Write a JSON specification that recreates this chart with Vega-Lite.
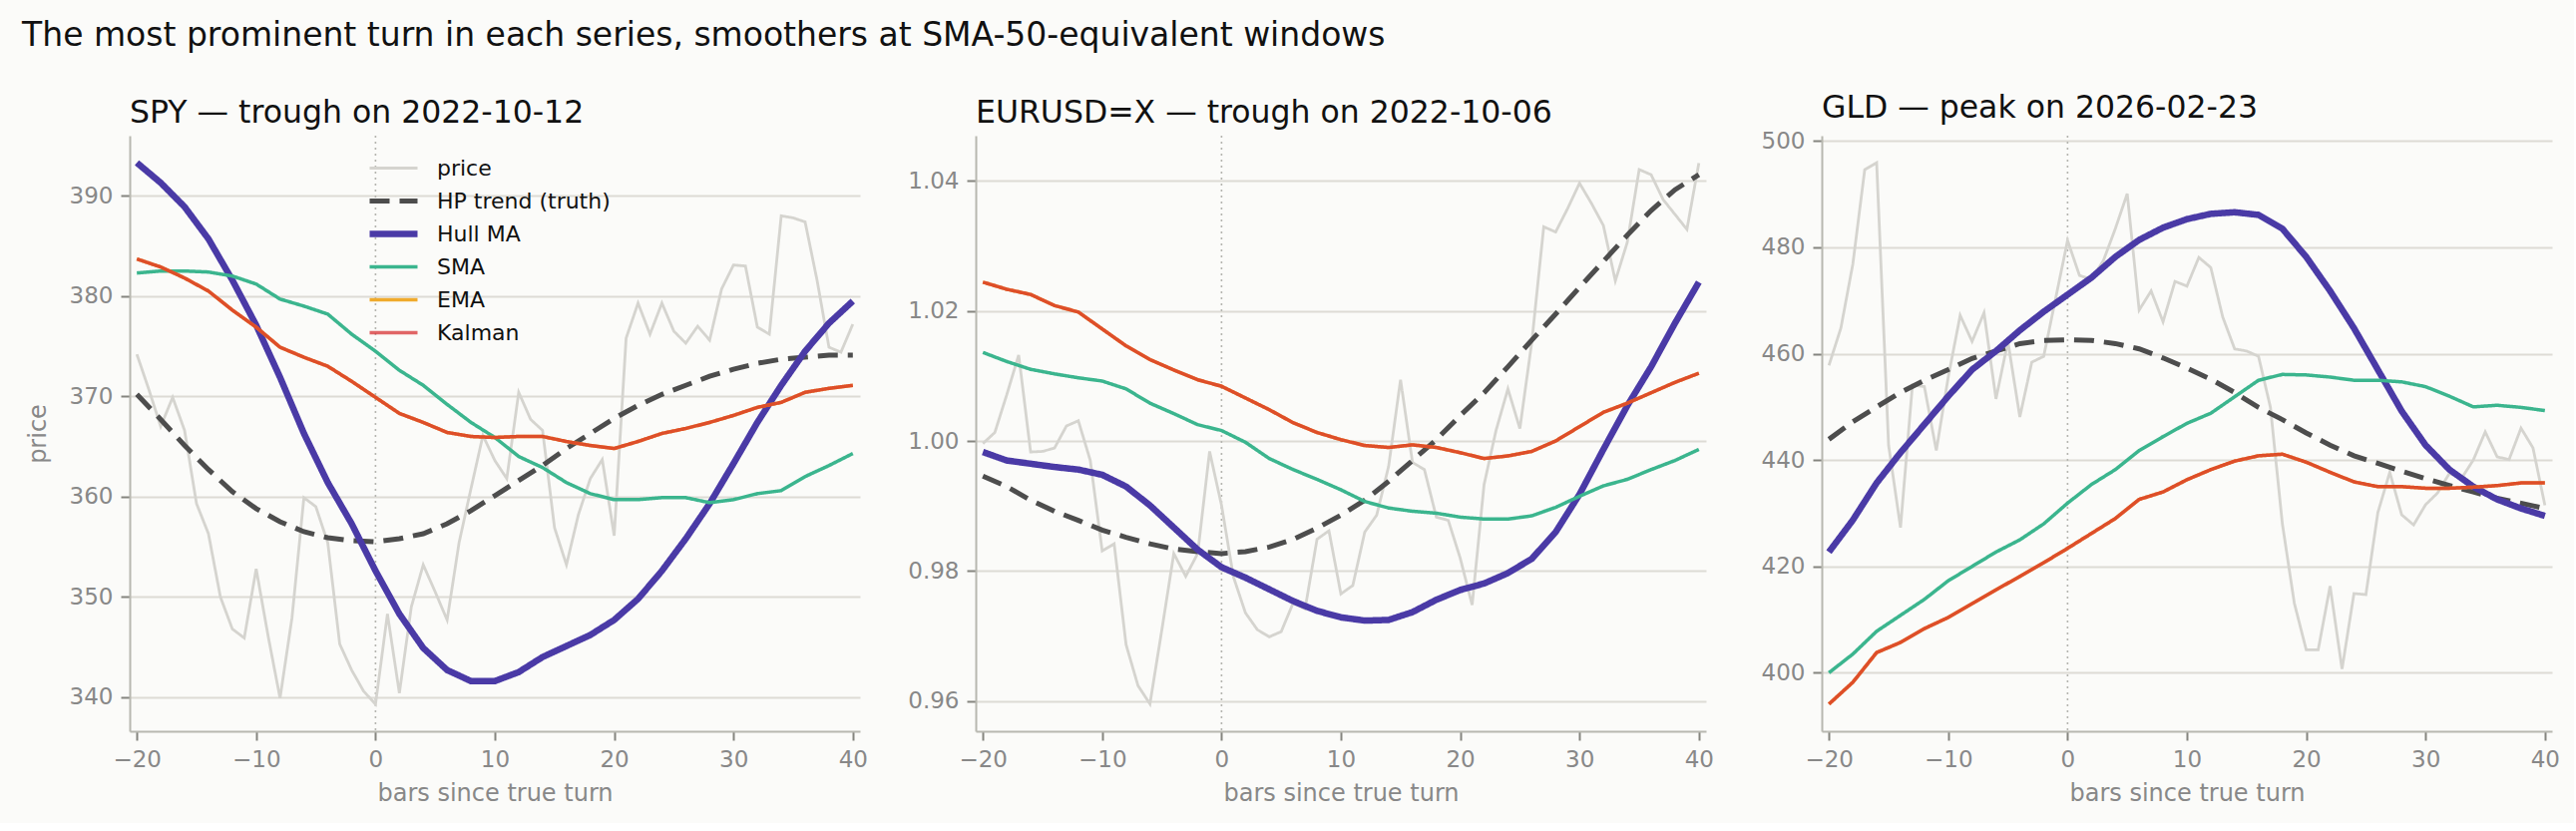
{
  "$schema": "https://vega.github.io/schema/vega-lite/v6.json",
  "background": "#fbfbf9",
  "padding": {"left": 22, "top": 19, "right": 14, "bottom": 18},
  "bounds": "flush",
  "spacing": 116,
  "title": {
    "text": "The most prominent turn in each series, smoothers at SMA-50-equivalent windows",
    "anchor": "start",
    "frame": "bounds",
    "fontSize": 33,
    "offset": 40,
    "dx": -4
  },
  "config": {
    "font": "DejaVu Sans",
    "view": {"stroke": null},
    "title": {"anchor": "start", "frame": "group", "font": "DejaVu Sans", "fontSize": 31.5, "fontWeight": "normal", "color": "#111111", "offset": 6},
    "axis": {
      "domainColor": "#b8b8b0", "domainWidth": 2,
      "tickColor": "#85857f", "tickWidth": 2, "tickSize": 9,
      "labelColor": "#888888", "labelFont": "DejaVu Sans", "labelFontSize": 23, "labelPadding": 8,
      "titleColor": "#888888", "titleFont": "DejaVu Sans", "titleFontSize": 24, "titleFontWeight": "normal",
      "gridColor": "#dddbd5", "gridWidth": 2
    },
    "axisX": {"grid": false, "titlePadding": 10, "labelFlush": false},
    "axisY": {"grid": true, "titlePadding": 19},
    "legend": {
      "orient": "none", "legendX": 237, "legendY": 16, "padding": 0,
      "symbolType": "stroke", "symbolSize": 2304, "clipHeight": 33, "labelFont": "DejaVu Sans", "labelFontSize": 22,
      "labelColor": "#111111", "labelOffset": 16, "labelLimit": 0, "rowPadding": 0, "titleFontSize": 0
    }
  },
  "resolve": {
    "scale": {"y": "independent"},
    "legend": {"color": "independent", "strokeDash": "independent", "strokeWidth": "independent", "opacity": "independent"}
  },
  "datasets": {
    "spy": [
      {"line":"price","bar":-20,"value":374.2},{"line":"price","bar":-19,"value":370.7},{"line":"price","bar":-18,"value":367.0},{"line":"price","bar":-17,"value":369.9},{"line":"price","bar":-16,"value":366.6},{"line":"price","bar":-15,"value":359.3},{"line":"price","bar":-14,"value":356.3},{"line":"price","bar":-13,"value":350.0},{"line":"price","bar":-12,"value":346.8},{"line":"price","bar":-11,"value":345.9},{"line":"price","bar":-10,"value":352.8},{"line":"price","bar":-9,"value":346.1},{"line":"price","bar":-8,"value":339.9},{"line":"price","bar":-7,"value":347.9},{"line":"price","bar":-6,"value":359.9},{"line":"price","bar":-5,"value":359.0},{"line":"price","bar":-4,"value":355.4},{"line":"price","bar":-3,"value":345.3},{"line":"price","bar":-2,"value":342.7},{"line":"price","bar":-1,"value":340.6},{"line":"price","bar":0,"value":339.3},{"line":"price","bar":1,"value":348.3},{"line":"price","bar":2,"value":340.4},{"line":"price","bar":3,"value":349.0},{"line":"price","bar":4,"value":353.2},{"line":"price","bar":5,"value":350.5},{"line":"price","bar":6,"value":347.7},{"line":"price","bar":7,"value":355.4},{"line":"price","bar":8,"value":360.8},{"line":"price","bar":9,"value":366.1},{"line":"price","bar":10,"value":363.6},{"line":"price","bar":11,"value":361.8},{"line":"price","bar":12,"value":370.4},{"line":"price","bar":13,"value":367.7},{"line":"price","bar":14,"value":366.6},{"line":"price","bar":15,"value":356.9},{"line":"price","bar":16,"value":353.2},{"line":"price","bar":17,"value":358.2},{"line":"price","bar":18,"value":361.8},{"line":"price","bar":19,"value":363.7},{"line":"price","bar":20,"value":356.1},{"line":"price","bar":21,"value":375.8},{"line":"price","bar":22,"value":379.3},{"line":"price","bar":23,"value":376.2},{"line":"price","bar":24,"value":379.3},{"line":"price","bar":25,"value":376.5},{"line":"price","bar":26,"value":375.3},{"line":"price","bar":27,"value":377.0},{"line":"price","bar":28,"value":375.6},{"line":"price","bar":29,"value":380.7},{"line":"price","bar":30,"value":383.1},{"line":"price","bar":31,"value":383.0},{"line":"price","bar":32,"value":376.9},{"line":"price","bar":33,"value":376.2},{"line":"price","bar":34,"value":388.0},{"line":"price","bar":35,"value":387.8},{"line":"price","bar":36,"value":387.4},{"line":"price","bar":37,"value":381.6},{"line":"price","bar":38,"value":374.9},{"line":"price","bar":39,"value":374.4},{"line":"price","bar":40,"value":377.2},
      {"line":"HP trend (truth)","bar":-20,"value":370.2},{"line":"HP trend (truth)","bar":-18,"value":367.7},{"line":"HP trend (truth)","bar":-16,"value":365.1},{"line":"HP trend (truth)","bar":-14,"value":362.7},{"line":"HP trend (truth)","bar":-12,"value":360.5},{"line":"HP trend (truth)","bar":-10,"value":358.8},{"line":"HP trend (truth)","bar":-8,"value":357.5},{"line":"HP trend (truth)","bar":-6,"value":356.5},{"line":"HP trend (truth)","bar":-4,"value":355.9},{"line":"HP trend (truth)","bar":-2,"value":355.6},{"line":"HP trend (truth)","bar":0,"value":355.5},{"line":"HP trend (truth)","bar":2,"value":355.8},{"line":"HP trend (truth)","bar":4,"value":356.3},{"line":"HP trend (truth)","bar":6,"value":357.3},{"line":"HP trend (truth)","bar":8,"value":358.6},{"line":"HP trend (truth)","bar":10,"value":360.1},{"line":"HP trend (truth)","bar":12,"value":361.6},{"line":"HP trend (truth)","bar":14,"value":363.1},{"line":"HP trend (truth)","bar":16,"value":364.8},{"line":"HP trend (truth)","bar":18,"value":366.3},{"line":"HP trend (truth)","bar":20,"value":367.8},{"line":"HP trend (truth)","bar":22,"value":369.1},{"line":"HP trend (truth)","bar":24,"value":370.2},{"line":"HP trend (truth)","bar":26,"value":371.1},{"line":"HP trend (truth)","bar":28,"value":372.0},{"line":"HP trend (truth)","bar":30,"value":372.7},{"line":"HP trend (truth)","bar":32,"value":373.3},{"line":"HP trend (truth)","bar":34,"value":373.7},{"line":"HP trend (truth)","bar":36,"value":373.9},{"line":"HP trend (truth)","bar":38,"value":374.1},{"line":"HP trend (truth)","bar":40,"value":374.1},
      {"line":"Hull MA","bar":-20,"value":393.3},{"line":"Hull MA","bar":-18,"value":391.3},{"line":"Hull MA","bar":-16,"value":388.9},{"line":"Hull MA","bar":-14,"value":385.7},{"line":"Hull MA","bar":-12,"value":381.6},{"line":"Hull MA","bar":-10,"value":377.1},{"line":"Hull MA","bar":-8,"value":371.9},{"line":"Hull MA","bar":-6,"value":366.3},{"line":"Hull MA","bar":-4,"value":361.4},{"line":"Hull MA","bar":-2,"value":357.3},{"line":"Hull MA","bar":0,"value":352.6},{"line":"Hull MA","bar":2,"value":348.3},{"line":"Hull MA","bar":4,"value":344.9},{"line":"Hull MA","bar":6,"value":342.7},{"line":"Hull MA","bar":8,"value":341.6},{"line":"Hull MA","bar":10,"value":341.6},{"line":"Hull MA","bar":12,"value":342.5},{"line":"Hull MA","bar":14,"value":344.0},{"line":"Hull MA","bar":16,"value":345.1},{"line":"Hull MA","bar":18,"value":346.2},{"line":"Hull MA","bar":20,"value":347.7},{"line":"Hull MA","bar":22,"value":349.8},{"line":"Hull MA","bar":24,"value":352.6},{"line":"Hull MA","bar":26,"value":355.8},{"line":"Hull MA","bar":28,"value":359.3},{"line":"Hull MA","bar":30,"value":363.3},{"line":"Hull MA","bar":32,"value":367.4},{"line":"Hull MA","bar":34,"value":371.1},{"line":"Hull MA","bar":36,"value":374.5},{"line":"Hull MA","bar":38,"value":377.3},{"line":"Hull MA","bar":40,"value":379.5},
      {"line":"SMA","bar":-20,"value":382.3},{"line":"SMA","bar":-18,"value":382.5},{"line":"SMA","bar":-16,"value":382.5},{"line":"SMA","bar":-14,"value":382.4},{"line":"SMA","bar":-12,"value":382.0},{"line":"SMA","bar":-10,"value":381.2},{"line":"SMA","bar":-8,"value":379.7},{"line":"SMA","bar":-6,"value":379.0},{"line":"SMA","bar":-4,"value":378.2},{"line":"SMA","bar":-2,"value":376.2},{"line":"SMA","bar":0,"value":374.5},{"line":"SMA","bar":2,"value":372.6},{"line":"SMA","bar":4,"value":371.1},{"line":"SMA","bar":6,"value":369.2},{"line":"SMA","bar":8,"value":367.4},{"line":"SMA","bar":10,"value":365.9},{"line":"SMA","bar":12,"value":364.0},{"line":"SMA","bar":14,"value":362.9},{"line":"SMA","bar":16,"value":361.4},{"line":"SMA","bar":18,"value":360.3},{"line":"SMA","bar":20,"value":359.7},{"line":"SMA","bar":22,"value":359.7},{"line":"SMA","bar":24,"value":359.9},{"line":"SMA","bar":26,"value":359.9},{"line":"SMA","bar":28,"value":359.4},{"line":"SMA","bar":30,"value":359.7},{"line":"SMA","bar":32,"value":360.3},{"line":"SMA","bar":34,"value":360.6},{"line":"SMA","bar":36,"value":362.0},{"line":"SMA","bar":38,"value":363.1},{"line":"SMA","bar":40,"value":364.3},
      {"line":"EMA","bar":-20,"value":383.7},{"line":"EMA","bar":-18,"value":382.9},{"line":"EMA","bar":-16,"value":381.8},{"line":"EMA","bar":-14,"value":380.5},{"line":"EMA","bar":-12,"value":378.6},{"line":"EMA","bar":-10,"value":376.9},{"line":"EMA","bar":-8,"value":374.9},{"line":"EMA","bar":-6,"value":373.9},{"line":"EMA","bar":-4,"value":373.0},{"line":"EMA","bar":-2,"value":371.5},{"line":"EMA","bar":0,"value":369.9},{"line":"EMA","bar":2,"value":368.3},{"line":"EMA","bar":4,"value":367.4},{"line":"EMA","bar":6,"value":366.4},{"line":"EMA","bar":8,"value":366.0},{"line":"EMA","bar":10,"value":365.9},{"line":"EMA","bar":12,"value":366.0},{"line":"EMA","bar":14,"value":366.0},{"line":"EMA","bar":16,"value":365.5},{"line":"EMA","bar":18,"value":365.1},{"line":"EMA","bar":20,"value":364.8},{"line":"EMA","bar":22,"value":365.5},{"line":"EMA","bar":24,"value":366.3},{"line":"EMA","bar":26,"value":366.8},{"line":"EMA","bar":28,"value":367.4},{"line":"EMA","bar":30,"value":368.1},{"line":"EMA","bar":32,"value":368.9},{"line":"EMA","bar":34,"value":369.4},{"line":"EMA","bar":36,"value":370.4},{"line":"EMA","bar":38,"value":370.8},{"line":"EMA","bar":40,"value":371.1},
      {"line":"Kalman","bar":-20,"value":383.7},{"line":"Kalman","bar":-18,"value":382.9},{"line":"Kalman","bar":-16,"value":381.8},{"line":"Kalman","bar":-14,"value":380.5},{"line":"Kalman","bar":-12,"value":378.6},{"line":"Kalman","bar":-10,"value":376.9},{"line":"Kalman","bar":-8,"value":374.9},{"line":"Kalman","bar":-6,"value":373.9},{"line":"Kalman","bar":-4,"value":373.0},{"line":"Kalman","bar":-2,"value":371.5},{"line":"Kalman","bar":0,"value":369.9},{"line":"Kalman","bar":2,"value":368.3},{"line":"Kalman","bar":4,"value":367.4},{"line":"Kalman","bar":6,"value":366.4},{"line":"Kalman","bar":8,"value":366.0},{"line":"Kalman","bar":10,"value":365.9},{"line":"Kalman","bar":12,"value":366.0},{"line":"Kalman","bar":14,"value":366.0},{"line":"Kalman","bar":16,"value":365.5},{"line":"Kalman","bar":18,"value":365.1},{"line":"Kalman","bar":20,"value":364.8},{"line":"Kalman","bar":22,"value":365.5},{"line":"Kalman","bar":24,"value":366.3},{"line":"Kalman","bar":26,"value":366.8},{"line":"Kalman","bar":28,"value":367.4},{"line":"Kalman","bar":30,"value":368.1},{"line":"Kalman","bar":32,"value":368.9},{"line":"Kalman","bar":34,"value":369.4},{"line":"Kalman","bar":36,"value":370.4},{"line":"Kalman","bar":38,"value":370.8},{"line":"Kalman","bar":40,"value":371.1}
    ],
    "eurusd": [
      {"line":"price","bar":-20,"value":0.9996},{"line":"price","bar":-19,"value":1.0013},{"line":"price","bar":-18,"value":1.0071},{"line":"price","bar":-17,"value":1.0132},{"line":"price","bar":-16,"value":0.9983},{"line":"price","bar":-15,"value":0.9984},{"line":"price","bar":-14,"value":0.9989},{"line":"price","bar":-13,"value":1.0023},{"line":"price","bar":-12,"value":1.0031},{"line":"price","bar":-11,"value":0.9970},{"line":"price","bar":-10,"value":0.9831},{"line":"price","bar":-9,"value":0.9842},{"line":"price","bar":-8,"value":0.9687},{"line":"price","bar":-7,"value":0.9624},{"line":"price","bar":-6,"value":0.9596},{"line":"price","bar":-5,"value":0.9710},{"line":"price","bar":-4,"value":0.9827},{"line":"price","bar":-3,"value":0.9792},{"line":"price","bar":-2,"value":0.9827},{"line":"price","bar":-1,"value":0.9984},{"line":"price","bar":0,"value":0.9901},{"line":"price","bar":1,"value":0.9791},{"line":"price","bar":2,"value":0.9736},{"line":"price","bar":3,"value":0.9710},{"line":"price","bar":4,"value":0.9699},{"line":"price","bar":5,"value":0.9707},{"line":"price","bar":6,"value":0.9751},{"line":"price","bar":7,"value":0.9742},{"line":"price","bar":8,"value":0.9849},{"line":"price","bar":9,"value":0.9862},{"line":"price","bar":10,"value":0.9765},{"line":"price","bar":11,"value":0.9778},{"line":"price","bar":12,"value":0.9860},{"line":"price","bar":13,"value":0.9886},{"line":"price","bar":14,"value":0.9961},{"line":"price","bar":15,"value":1.0094},{"line":"price","bar":16,"value":0.9967},{"line":"price","bar":17,"value":0.9956},{"line":"price","bar":18,"value":0.9883},{"line":"price","bar":19,"value":0.9878},{"line":"price","bar":20,"value":0.9820},{"line":"price","bar":21,"value":0.9748},{"line":"price","bar":22,"value":0.9933},{"line":"price","bar":23,"value":1.0016},{"line":"price","bar":24,"value":1.0080},{"line":"price","bar":25,"value":1.0019},{"line":"price","bar":26,"value":1.0152},{"line":"price","bar":27,"value":1.0329},{"line":"price","bar":28,"value":1.0321},{"line":"price","bar":29,"value":1.0357},{"line":"price","bar":30,"value":1.0396},{"line":"price","bar":31,"value":1.0365},{"line":"price","bar":32,"value":1.0331},{"line":"price","bar":33,"value":1.0246},{"line":"price","bar":34,"value":1.0305},{"line":"price","bar":35,"value":1.0417},{"line":"price","bar":36,"value":1.0409},{"line":"price","bar":37,"value":1.0371},{"line":"price","bar":38,"value":1.0348},{"line":"price","bar":39,"value":1.0325},{"line":"price","bar":40,"value":1.0427},
      {"line":"HP trend (truth)","bar":-20,"value":0.9946},{"line":"HP trend (truth)","bar":-18,"value":0.9930},{"line":"HP trend (truth)","bar":-16,"value":0.9909},{"line":"HP trend (truth)","bar":-14,"value":0.9892},{"line":"HP trend (truth)","bar":-12,"value":0.9878},{"line":"HP trend (truth)","bar":-10,"value":0.9863},{"line":"HP trend (truth)","bar":-8,"value":0.9852},{"line":"HP trend (truth)","bar":-6,"value":0.9842},{"line":"HP trend (truth)","bar":-4,"value":0.9834},{"line":"HP trend (truth)","bar":-2,"value":0.9830},{"line":"HP trend (truth)","bar":0,"value":0.9827},{"line":"HP trend (truth)","bar":2,"value":0.9830},{"line":"HP trend (truth)","bar":4,"value":0.9837},{"line":"HP trend (truth)","bar":6,"value":0.9849},{"line":"HP trend (truth)","bar":8,"value":0.9866},{"line":"HP trend (truth)","bar":10,"value":0.9886},{"line":"HP trend (truth)","bar":12,"value":0.9909},{"line":"HP trend (truth)","bar":14,"value":0.9938},{"line":"HP trend (truth)","bar":16,"value":0.9970},{"line":"HP trend (truth)","bar":18,"value":1.0002},{"line":"HP trend (truth)","bar":20,"value":1.0039},{"line":"HP trend (truth)","bar":22,"value":1.0074},{"line":"HP trend (truth)","bar":24,"value":1.0114},{"line":"HP trend (truth)","bar":26,"value":1.0155},{"line":"HP trend (truth)","bar":28,"value":1.0195},{"line":"HP trend (truth)","bar":30,"value":1.0236},{"line":"HP trend (truth)","bar":32,"value":1.0276},{"line":"HP trend (truth)","bar":34,"value":1.0316},{"line":"HP trend (truth)","bar":36,"value":1.0354},{"line":"HP trend (truth)","bar":38,"value":1.0386},{"line":"HP trend (truth)","bar":40,"value":1.0409},
      {"line":"Hull MA","bar":-20,"value":0.9983},{"line":"Hull MA","bar":-18,"value":0.9970},{"line":"Hull MA","bar":-16,"value":0.9965},{"line":"Hull MA","bar":-14,"value":0.9960},{"line":"Hull MA","bar":-12,"value":0.9956},{"line":"Hull MA","bar":-10,"value":0.9948},{"line":"Hull MA","bar":-8,"value":0.9930},{"line":"Hull MA","bar":-6,"value":0.9901},{"line":"Hull MA","bar":-4,"value":0.9867},{"line":"Hull MA","bar":-2,"value":0.9833},{"line":"Hull MA","bar":0,"value":0.9806},{"line":"Hull MA","bar":2,"value":0.9790},{"line":"Hull MA","bar":4,"value":0.9772},{"line":"Hull MA","bar":6,"value":0.9754},{"line":"Hull MA","bar":8,"value":0.9739},{"line":"Hull MA","bar":10,"value":0.9729},{"line":"Hull MA","bar":12,"value":0.9724},{"line":"Hull MA","bar":14,"value":0.9725},{"line":"Hull MA","bar":16,"value":0.9737},{"line":"Hull MA","bar":18,"value":0.9756},{"line":"Hull MA","bar":20,"value":0.9771},{"line":"Hull MA","bar":22,"value":0.9781},{"line":"Hull MA","bar":24,"value":0.9797},{"line":"Hull MA","bar":26,"value":0.9819},{"line":"Hull MA","bar":28,"value":0.9860},{"line":"Hull MA","bar":30,"value":0.9918},{"line":"Hull MA","bar":32,"value":0.9987},{"line":"Hull MA","bar":34,"value":1.0054},{"line":"Hull MA","bar":36,"value":1.0114},{"line":"Hull MA","bar":38,"value":1.0181},{"line":"Hull MA","bar":40,"value":1.0244},
      {"line":"SMA","bar":-20,"value":1.0136},{"line":"SMA","bar":-18,"value":1.0122},{"line":"SMA","bar":-16,"value":1.0110},{"line":"SMA","bar":-14,"value":1.0103},{"line":"SMA","bar":-12,"value":1.0097},{"line":"SMA","bar":-10,"value":1.0092},{"line":"SMA","bar":-8,"value":1.0080},{"line":"SMA","bar":-6,"value":1.0058},{"line":"SMA","bar":-4,"value":1.0042},{"line":"SMA","bar":-2,"value":1.0025},{"line":"SMA","bar":0,"value":1.0016},{"line":"SMA","bar":2,"value":0.9998},{"line":"SMA","bar":4,"value":0.9973},{"line":"SMA","bar":6,"value":0.9956},{"line":"SMA","bar":8,"value":0.9941},{"line":"SMA","bar":10,"value":0.9925},{"line":"SMA","bar":12,"value":0.9907},{"line":"SMA","bar":14,"value":0.9897},{"line":"SMA","bar":16,"value":0.9892},{"line":"SMA","bar":18,"value":0.9889},{"line":"SMA","bar":20,"value":0.9883},{"line":"SMA","bar":22,"value":0.9880},{"line":"SMA","bar":24,"value":0.9880},{"line":"SMA","bar":26,"value":0.9885},{"line":"SMA","bar":28,"value":0.9898},{"line":"SMA","bar":30,"value":0.9915},{"line":"SMA","bar":32,"value":0.9931},{"line":"SMA","bar":34,"value":0.9941},{"line":"SMA","bar":36,"value":0.9956},{"line":"SMA","bar":38,"value":0.9970},{"line":"SMA","bar":40,"value":0.9987},
      {"line":"EMA","bar":-20,"value":1.0244},{"line":"EMA","bar":-18,"value":1.0233},{"line":"EMA","bar":-16,"value":1.0225},{"line":"EMA","bar":-14,"value":1.0208},{"line":"EMA","bar":-12,"value":1.0198},{"line":"EMA","bar":-10,"value":1.0172},{"line":"EMA","bar":-8,"value":1.0146},{"line":"EMA","bar":-6,"value":1.0125},{"line":"EMA","bar":-4,"value":1.0109},{"line":"EMA","bar":-2,"value":1.0094},{"line":"EMA","bar":0,"value":1.0084},{"line":"EMA","bar":2,"value":1.0066},{"line":"EMA","bar":4,"value":1.0048},{"line":"EMA","bar":6,"value":1.0028},{"line":"EMA","bar":8,"value":1.0013},{"line":"EMA","bar":10,"value":1.0002},{"line":"EMA","bar":12,"value":0.9993},{"line":"EMA","bar":14,"value":0.9990},{"line":"EMA","bar":16,"value":0.9994},{"line":"EMA","bar":18,"value":0.9990},{"line":"EMA","bar":20,"value":0.9982},{"line":"EMA","bar":22,"value":0.9973},{"line":"EMA","bar":24,"value":0.9977},{"line":"EMA","bar":26,"value":0.9984},{"line":"EMA","bar":28,"value":1.0000},{"line":"EMA","bar":30,"value":1.0022},{"line":"EMA","bar":32,"value":1.0044},{"line":"EMA","bar":34,"value":1.0058},{"line":"EMA","bar":36,"value":1.0074},{"line":"EMA","bar":38,"value":1.0090},{"line":"EMA","bar":40,"value":1.0104},
      {"line":"Kalman","bar":-20,"value":1.0244},{"line":"Kalman","bar":-18,"value":1.0233},{"line":"Kalman","bar":-16,"value":1.0225},{"line":"Kalman","bar":-14,"value":1.0208},{"line":"Kalman","bar":-12,"value":1.0198},{"line":"Kalman","bar":-10,"value":1.0172},{"line":"Kalman","bar":-8,"value":1.0146},{"line":"Kalman","bar":-6,"value":1.0125},{"line":"Kalman","bar":-4,"value":1.0109},{"line":"Kalman","bar":-2,"value":1.0094},{"line":"Kalman","bar":0,"value":1.0084},{"line":"Kalman","bar":2,"value":1.0066},{"line":"Kalman","bar":4,"value":1.0048},{"line":"Kalman","bar":6,"value":1.0028},{"line":"Kalman","bar":8,"value":1.0013},{"line":"Kalman","bar":10,"value":1.0002},{"line":"Kalman","bar":12,"value":0.9993},{"line":"Kalman","bar":14,"value":0.9990},{"line":"Kalman","bar":16,"value":0.9994},{"line":"Kalman","bar":18,"value":0.9990},{"line":"Kalman","bar":20,"value":0.9982},{"line":"Kalman","bar":22,"value":0.9973},{"line":"Kalman","bar":24,"value":0.9977},{"line":"Kalman","bar":26,"value":0.9984},{"line":"Kalman","bar":28,"value":1.0000},{"line":"Kalman","bar":30,"value":1.0022},{"line":"Kalman","bar":32,"value":1.0044},{"line":"Kalman","bar":34,"value":1.0058},{"line":"Kalman","bar":36,"value":1.0074},{"line":"Kalman","bar":38,"value":1.0090},{"line":"Kalman","bar":40,"value":1.0104}
    ],
    "gld": [
      {"line":"price","bar":-20,"value":457.8},{"line":"price","bar":-19,"value":464.8},{"line":"price","bar":-18,"value":476.8},{"line":"price","bar":-17,"value":494.6},{"line":"price","bar":-16,"value":495.9},{"line":"price","bar":-15,"value":442.8},{"line":"price","bar":-14,"value":427.3},{"line":"price","bar":-13,"value":454.1},{"line":"price","bar":-12,"value":453.8},{"line":"price","bar":-11,"value":441.8},{"line":"price","bar":-10,"value":455.6},{"line":"price","bar":-9,"value":467.2},{"line":"price","bar":-8,"value":462.3},{"line":"price","bar":-7,"value":467.7},{"line":"price","bar":-6,"value":451.5},{"line":"price","bar":-5,"value":462.3},{"line":"price","bar":-4,"value":448.1},{"line":"price","bar":-3,"value":458.4},{"line":"price","bar":-2,"value":459.5},{"line":"price","bar":-1,"value":470.4},{"line":"price","bar":0,"value":481.3},{"line":"price","bar":1,"value":474.7},{"line":"price","bar":2,"value":474.0},{"line":"price","bar":3,"value":477.5},{"line":"price","bar":4,"value":483.5},{"line":"price","bar":5,"value":490.1},{"line":"price","bar":6,"value":468.2},{"line":"price","bar":7,"value":471.8},{"line":"price","bar":8,"value":466.0},{"line":"price","bar":9,"value":473.6},{"line":"price","bar":10,"value":472.7},{"line":"price","bar":11,"value":478.1},{"line":"price","bar":12,"value":476.2},{"line":"price","bar":13,"value":466.9},{"line":"price","bar":14,"value":460.9},{"line":"price","bar":15,"value":460.5},{"line":"price","bar":16,"value":459.5},{"line":"price","bar":17,"value":449.9},{"line":"price","bar":18,"value":428.0},{"line":"price","bar":19,"value":413.1},{"line":"price","bar":20,"value":404.3},{"line":"price","bar":21,"value":404.3},{"line":"price","bar":22,"value":416.3},{"line":"price","bar":23,"value":400.7},{"line":"price","bar":24,"value":414.9},{"line":"price","bar":25,"value":414.7},{"line":"price","bar":26,"value":430.1},{"line":"price","bar":27,"value":437.7},{"line":"price","bar":28,"value":429.7},{"line":"price","bar":29,"value":427.8},{"line":"price","bar":30,"value":431.6},{"line":"price","bar":31,"value":433.8},{"line":"price","bar":32,"value":437.5},{"line":"price","bar":33,"value":436.5},{"line":"price","bar":34,"value":440.0},{"line":"price","bar":35,"value":445.3},{"line":"price","bar":36,"value":440.6},{"line":"price","bar":37,"value":440.1},{"line":"price","bar":38,"value":446.0},{"line":"price","bar":39,"value":442.3},{"line":"price","bar":40,"value":431.5},
      {"line":"HP trend (truth)","bar":-20,"value":443.9},{"line":"HP trend (truth)","bar":-18,"value":447.2},{"line":"HP trend (truth)","bar":-16,"value":450.0},{"line":"HP trend (truth)","bar":-14,"value":452.7},{"line":"HP trend (truth)","bar":-12,"value":455.0},{"line":"HP trend (truth)","bar":-10,"value":457.0},{"line":"HP trend (truth)","bar":-8,"value":459.1},{"line":"HP trend (truth)","bar":-6,"value":460.5},{"line":"HP trend (truth)","bar":-4,"value":461.9},{"line":"HP trend (truth)","bar":-2,"value":462.5},{"line":"HP trend (truth)","bar":0,"value":462.6},{"line":"HP trend (truth)","bar":2,"value":462.5},{"line":"HP trend (truth)","bar":4,"value":461.9},{"line":"HP trend (truth)","bar":6,"value":460.9},{"line":"HP trend (truth)","bar":8,"value":459.2},{"line":"HP trend (truth)","bar":10,"value":457.3},{"line":"HP trend (truth)","bar":12,"value":455.2},{"line":"HP trend (truth)","bar":14,"value":452.7},{"line":"HP trend (truth)","bar":16,"value":449.9},{"line":"HP trend (truth)","bar":18,"value":447.6},{"line":"HP trend (truth)","bar":20,"value":445.1},{"line":"HP trend (truth)","bar":22,"value":442.8},{"line":"HP trend (truth)","bar":24,"value":440.8},{"line":"HP trend (truth)","bar":26,"value":439.4},{"line":"HP trend (truth)","bar":28,"value":437.9},{"line":"HP trend (truth)","bar":30,"value":436.5},{"line":"HP trend (truth)","bar":32,"value":435.2},{"line":"HP trend (truth)","bar":34,"value":434.0},{"line":"HP trend (truth)","bar":36,"value":432.8},{"line":"HP trend (truth)","bar":38,"value":431.9},{"line":"HP trend (truth)","bar":40,"value":430.9},
      {"line":"Hull MA","bar":-20,"value":422.7},{"line":"Hull MA","bar":-18,"value":428.7},{"line":"Hull MA","bar":-16,"value":435.7},{"line":"Hull MA","bar":-14,"value":441.4},{"line":"Hull MA","bar":-12,"value":446.7},{"line":"Hull MA","bar":-10,"value":452.0},{"line":"Hull MA","bar":-8,"value":457.0},{"line":"Hull MA","bar":-6,"value":460.5},{"line":"Hull MA","bar":-4,"value":464.4},{"line":"Hull MA","bar":-2,"value":467.9},{"line":"Hull MA","bar":0,"value":471.1},{"line":"Hull MA","bar":2,"value":474.3},{"line":"Hull MA","bar":4,"value":478.2},{"line":"Hull MA","bar":6,"value":481.4},{"line":"Hull MA","bar":8,"value":483.7},{"line":"Hull MA","bar":10,"value":485.3},{"line":"Hull MA","bar":12,"value":486.3},{"line":"Hull MA","bar":14,"value":486.6},{"line":"Hull MA","bar":16,"value":486.1},{"line":"Hull MA","bar":18,"value":483.5},{"line":"Hull MA","bar":20,"value":478.2},{"line":"Hull MA","bar":22,"value":471.8},{"line":"Hull MA","bar":24,"value":464.8},{"line":"Hull MA","bar":26,"value":457.0},{"line":"Hull MA","bar":28,"value":449.2},{"line":"Hull MA","bar":30,"value":442.8},{"line":"Hull MA","bar":32,"value":438.2},{"line":"Hull MA","bar":34,"value":435.0},{"line":"Hull MA","bar":36,"value":432.6},{"line":"Hull MA","bar":38,"value":430.9},{"line":"Hull MA","bar":40,"value":429.5},
      {"line":"SMA","bar":-20,"value":400.0},{"line":"SMA","bar":-18,"value":403.5},{"line":"SMA","bar":-16,"value":407.8},{"line":"SMA","bar":-14,"value":410.8},{"line":"SMA","bar":-12,"value":413.8},{"line":"SMA","bar":-10,"value":417.3},{"line":"SMA","bar":-8,"value":420.0},{"line":"SMA","bar":-6,"value":422.7},{"line":"SMA","bar":-4,"value":425.0},{"line":"SMA","bar":-2,"value":428.0},{"line":"SMA","bar":0,"value":431.9},{"line":"SMA","bar":2,"value":435.4},{"line":"SMA","bar":4,"value":438.2},{"line":"SMA","bar":6,"value":441.8},{"line":"SMA","bar":8,"value":444.4},{"line":"SMA","bar":10,"value":446.9},{"line":"SMA","bar":12,"value":448.8},{"line":"SMA","bar":14,"value":451.9},{"line":"SMA","bar":16,"value":455.0},{"line":"SMA","bar":18,"value":456.1},{"line":"SMA","bar":20,"value":456.0},{"line":"SMA","bar":22,"value":455.6},{"line":"SMA","bar":24,"value":455.0},{"line":"SMA","bar":26,"value":455.0},{"line":"SMA","bar":28,"value":454.7},{"line":"SMA","bar":30,"value":453.8},{"line":"SMA","bar":32,"value":452.0},{"line":"SMA","bar":34,"value":450.0},{"line":"SMA","bar":36,"value":450.3},{"line":"SMA","bar":38,"value":449.9},{"line":"SMA","bar":40,"value":449.3},
      {"line":"EMA","bar":-20,"value":394.1},{"line":"EMA","bar":-18,"value":398.2},{"line":"EMA","bar":-16,"value":403.8},{"line":"EMA","bar":-14,"value":405.7},{"line":"EMA","bar":-12,"value":408.3},{"line":"EMA","bar":-10,"value":410.4},{"line":"EMA","bar":-8,"value":413.0},{"line":"EMA","bar":-6,"value":415.6},{"line":"EMA","bar":-4,"value":418.1},{"line":"EMA","bar":-2,"value":420.7},{"line":"EMA","bar":0,"value":423.4},{"line":"EMA","bar":2,"value":426.2},{"line":"EMA","bar":4,"value":429.0},{"line":"EMA","bar":6,"value":432.6},{"line":"EMA","bar":8,"value":434.0},{"line":"EMA","bar":10,"value":436.3},{"line":"EMA","bar":12,"value":438.2},{"line":"EMA","bar":14,"value":439.8},{"line":"EMA","bar":16,"value":440.8},{"line":"EMA","bar":18,"value":441.1},{"line":"EMA","bar":20,"value":439.6},{"line":"EMA","bar":22,"value":437.7},{"line":"EMA","bar":24,"value":435.9},{"line":"EMA","bar":26,"value":435.0},{"line":"EMA","bar":28,"value":435.0},{"line":"EMA","bar":30,"value":434.7},{"line":"EMA","bar":32,"value":434.7},{"line":"EMA","bar":34,"value":434.9},{"line":"EMA","bar":36,"value":435.2},{"line":"EMA","bar":38,"value":435.7},{"line":"EMA","bar":40,"value":435.7},
      {"line":"Kalman","bar":-20,"value":394.1},{"line":"Kalman","bar":-18,"value":398.2},{"line":"Kalman","bar":-16,"value":403.8},{"line":"Kalman","bar":-14,"value":405.7},{"line":"Kalman","bar":-12,"value":408.3},{"line":"Kalman","bar":-10,"value":410.4},{"line":"Kalman","bar":-8,"value":413.0},{"line":"Kalman","bar":-6,"value":415.6},{"line":"Kalman","bar":-4,"value":418.1},{"line":"Kalman","bar":-2,"value":420.7},{"line":"Kalman","bar":0,"value":423.4},{"line":"Kalman","bar":2,"value":426.2},{"line":"Kalman","bar":4,"value":429.0},{"line":"Kalman","bar":6,"value":432.6},{"line":"Kalman","bar":8,"value":434.0},{"line":"Kalman","bar":10,"value":436.3},{"line":"Kalman","bar":12,"value":438.2},{"line":"Kalman","bar":14,"value":439.8},{"line":"Kalman","bar":16,"value":440.8},{"line":"Kalman","bar":18,"value":441.1},{"line":"Kalman","bar":20,"value":439.6},{"line":"Kalman","bar":22,"value":437.7},{"line":"Kalman","bar":24,"value":435.9},{"line":"Kalman","bar":26,"value":435.0},{"line":"Kalman","bar":28,"value":435.0},{"line":"Kalman","bar":30,"value":434.7},{"line":"Kalman","bar":32,"value":434.7},{"line":"Kalman","bar":34,"value":434.9},{"line":"Kalman","bar":36,"value":435.2},{"line":"Kalman","bar":38,"value":435.7},{"line":"Kalman","bar":40,"value":435.7}
    ]
  },
  "hconcat": [
    {
      "width": 732, "height": 597,
      "title": "SPY — trough on 2022-10-12",
      "layer": [
        {
          "data": {"values": [{"bar": 0}]},
          "mark": {"type": "rule", "color": "#b5b5b0", "strokeDash": [2, 4], "strokeWidth": 1.6},
          "encoding": {"x": {"field": "bar", "type": "quantitative"}}
        },
        {
          "data": {"name": "spy"},
          "mark": {"type": "line", "strokeCap": "butt"},
          "encoding": {
            "x": {"field": "bar", "type": "quantitative", "scale": {"domain": [-20.6, 40.6], "nice": false, "zero": false}, "axis": {"values": [-20, -10, 0, 10, 20, 30, 40], "title": "bars since true turn"}},
            "y": {"field": "value", "type": "quantitative", "scale": {"domain": [336.6, 396.0], "nice": false, "zero": false}, "axis": {"values": [340, 350, 360, 370, 380, 390], "title": "price"}},
            "color": {"field": "line", "type": "nominal", "scale": {"domain": ["price", "HP trend (truth)", "Hull MA", "SMA", "EMA", "Kalman"], "range": ["#d5d4cf", "#4d4d4d", "#4a3aa6", "#3bb58e", "#f0aa2c", "#d62728"]}, "legend": {"title": null}},
            "strokeDash": {"field": "line", "type": "nominal", "scale": {"domain": ["price", "HP trend (truth)", "Hull MA", "SMA", "EMA", "Kalman"], "range": [[1, 0], [20, 10], [1, 0], [1, 0], [1, 0], [1, 0]]}, "legend": {"title": null}},
            "strokeWidth": {"field": "line", "type": "nominal", "scale": {"type": "ordinal", "domain": ["price", "HP trend (truth)", "Hull MA", "SMA", "EMA", "Kalman"], "range": [2.8, 5, 6.5, 3.5, 3.5, 3.5]}, "legend": {"title": null}},
            "opacity": {"field": "line", "type": "nominal", "scale": {"type": "ordinal", "domain": ["price", "HP trend (truth)", "Hull MA", "SMA", "EMA", "Kalman"], "range": [1, 1, 1, 1, 1, 0.7]}, "legend": {"title": null}}
          }
        }
      ]
    },
    {
      "width": 732, "height": 597,
      "title": "EURUSD=X — trough on 2022-10-06",
      "layer": [
        {
          "data": {"values": [{"bar": 0}]},
          "mark": {"type": "rule", "color": "#b5b5b0", "strokeDash": [2, 4], "strokeWidth": 1.6},
          "encoding": {"x": {"field": "bar", "type": "quantitative"}}
        },
        {
          "data": {"name": "eurusd"},
          "mark": {"type": "line", "strokeCap": "butt"},
          "encoding": {
            "x": {"field": "bar", "type": "quantitative", "scale": {"domain": [-20.6, 40.6], "nice": false, "zero": false}, "axis": {"values": [-20, -10, 0, 10, 20, 30, 40], "title": "bars since true turn"}},
            "y": {"field": "value", "type": "quantitative", "scale": {"domain": [0.9554, 1.0469], "nice": false, "zero": false}, "axis": {"values": [0.96, 0.98, 1.0, 1.02, 1.04], "format": ".2f", "title": null}},
            "color": {"field": "line", "type": "nominal", "scale": {"domain": ["price", "HP trend (truth)", "Hull MA", "SMA", "EMA", "Kalman"], "range": ["#d5d4cf", "#4d4d4d", "#4a3aa6", "#3bb58e", "#f0aa2c", "#d62728"]}, "legend": null},
            "strokeDash": {"field": "line", "type": "nominal", "scale": {"domain": ["price", "HP trend (truth)", "Hull MA", "SMA", "EMA", "Kalman"], "range": [[1, 0], [20, 10], [1, 0], [1, 0], [1, 0], [1, 0]]}, "legend": null},
            "strokeWidth": {"field": "line", "type": "nominal", "scale": {"type": "ordinal", "domain": ["price", "HP trend (truth)", "Hull MA", "SMA", "EMA", "Kalman"], "range": [2.8, 5, 6.5, 3.5, 3.5, 3.5]}, "legend": null},
            "opacity": {"field": "line", "type": "nominal", "scale": {"type": "ordinal", "domain": ["price", "HP trend (truth)", "Hull MA", "SMA", "EMA", "Kalman"], "range": [1, 1, 1, 1, 1, 0.7]}, "legend": null}
          }
        }
      ]
    },
    {
      "width": 732, "height": 597,
      "title": "GLD — peak on 2026-02-23",
      "layer": [
        {
          "data": {"values": [{"bar": 0}]},
          "mark": {"type": "rule", "color": "#b5b5b0", "strokeDash": [2, 4], "strokeWidth": 1.6},
          "encoding": {"x": {"field": "bar", "type": "quantitative"}}
        },
        {
          "data": {"name": "gld"},
          "mark": {"type": "line", "strokeCap": "butt"},
          "encoding": {
            "x": {"field": "bar", "type": "quantitative", "scale": {"domain": [-20.6, 40.6], "nice": false, "zero": false}, "axis": {"values": [-20, -10, 0, 10, 20, 30, 40], "title": "bars since true turn"}},
            "y": {"field": "value", "type": "quantitative", "scale": {"domain": [389.0, 501.0], "nice": false, "zero": false}, "axis": {"values": [400, 420, 440, 460, 480, 500], "title": null}},
            "color": {"field": "line", "type": "nominal", "scale": {"domain": ["price", "HP trend (truth)", "Hull MA", "SMA", "EMA", "Kalman"], "range": ["#d5d4cf", "#4d4d4d", "#4a3aa6", "#3bb58e", "#f0aa2c", "#d62728"]}, "legend": null},
            "strokeDash": {"field": "line", "type": "nominal", "scale": {"domain": ["price", "HP trend (truth)", "Hull MA", "SMA", "EMA", "Kalman"], "range": [[1, 0], [20, 10], [1, 0], [1, 0], [1, 0], [1, 0]]}, "legend": null},
            "strokeWidth": {"field": "line", "type": "nominal", "scale": {"type": "ordinal", "domain": ["price", "HP trend (truth)", "Hull MA", "SMA", "EMA", "Kalman"], "range": [2.8, 5, 6.5, 3.5, 3.5, 3.5]}, "legend": null},
            "opacity": {"field": "line", "type": "nominal", "scale": {"type": "ordinal", "domain": ["price", "HP trend (truth)", "Hull MA", "SMA", "EMA", "Kalman"], "range": [1, 1, 1, 1, 1, 0.7]}, "legend": null}
          }
        }
      ]
    }
  ]
}
